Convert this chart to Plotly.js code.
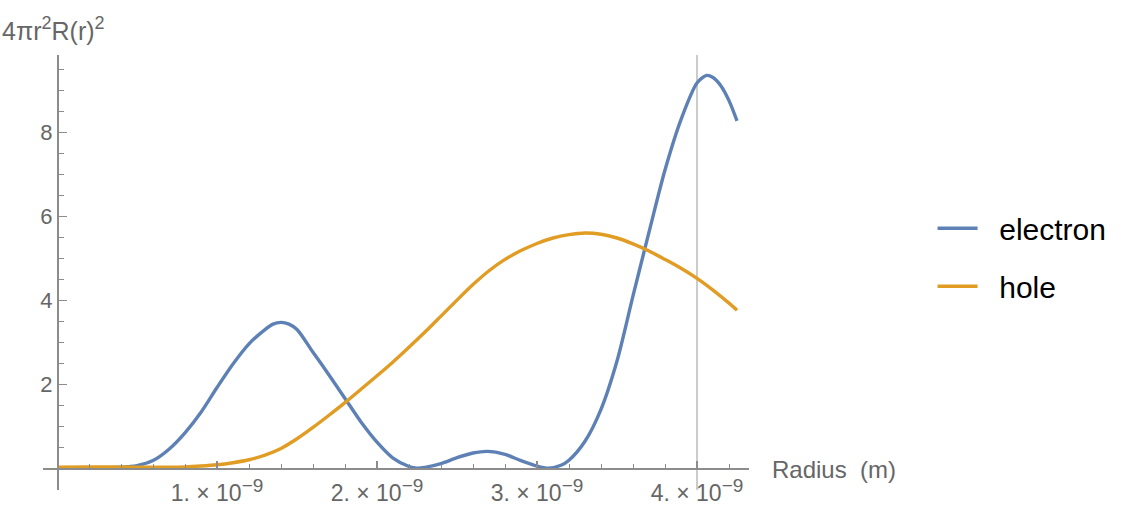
<!DOCTYPE html>
<html>
<head>
<meta charset="utf-8">
<script src="https://cdn.plot.ly/plotly-3.0.1.min.js"></script>
<style>
  html, body { margin: 0; padding: 0; background: #fff; }
  #fig { width: 1130px; height: 519px; }
</style>
</head>
<body>
<div id="fig"></div>
<script>
// radial probability density (radius in nm)
const electronR = [0, 0.1, 0.2, 0.3, 0.4, 0.5, 0.6, 0.7, 0.8, 0.9, 1.0, 1.1, 1.2, 1.3, 1.35, 1.4, 1.45, 1.5, 1.6, 1.7, 1.8, 1.9, 2.0, 2.1, 2.2, 2.25, 2.3, 2.4, 2.5, 2.6, 2.69, 2.8, 2.9, 3.0, 3.07, 3.15, 3.2, 3.3, 3.4, 3.5, 3.6, 3.7, 3.8, 3.9, 4.0, 4.06, 4.1, 4.15, 4.2, 4.25];
const electronP = [0, 0, 0, 0.01, 0.02, 0.06, 0.18, 0.45, 0.84, 1.33, 1.92, 2.48, 2.96, 3.3, 3.43, 3.47, 3.43, 3.3, 2.76, 2.22, 1.66, 1.1, 0.62, 0.24, 0.04, 0, 0.02, 0.11, 0.25, 0.36, 0.4, 0.33, 0.18, 0.05, 0, 0.07, 0.19, 0.64, 1.4, 2.55, 4.1, 5.62, 7.1, 8.3, 9.17, 9.35, 9.3, 9.1, 8.75, 8.27];

const holeR = [0, 0.2, 0.4, 0.6, 0.8, 0.9, 1.0, 1.1, 1.2, 1.3, 1.4, 1.5, 1.6, 1.7, 1.8, 1.9, 2.0, 2.1, 2.2, 2.3, 2.4, 2.5, 2.6, 2.7, 2.8, 2.9, 3.0, 3.1, 3.2, 3.3, 3.4, 3.5, 3.6, 3.7, 3.8, 3.9, 4.0, 4.1, 4.2, 4.25];
const holeP = [0.02, 0.03, 0.03, 0.02, 0.03, 0.05, 0.08, 0.13, 0.2, 0.31, 0.47, 0.7, 0.97, 1.26, 1.56, 1.88, 2.2, 2.53, 2.88, 3.24, 3.62, 4.0, 4.37, 4.7, 4.97, 5.18, 5.35, 5.48, 5.56, 5.6, 5.57, 5.48, 5.34, 5.17, 4.97, 4.76, 4.52, 4.24, 3.93, 3.76];

const xTickVals = [1e-9, 2e-9, 3e-9, 4e-9];
const xTickMant = ['1.', '2.', '3.', '4.'];
const yTickVals = [2, 4, 6, 8];
const gridLineX = 4e-9;

const nm = v => v * 1e-9;
const FONT = 'Liberation Sans, Arial, sans-serif';
const supSpan = (t, px) => `<sup><span style="font-size:${px}px">${t}</span></sup>`;

const xRange = [-0.0875e-9, 4.325e-9];
const yRange = [-0.52, 9.837];

const traces = [
  {
    x: electronR.map(nm), y: electronP,
    type: 'scatter', mode: 'lines', name: '\u00a0\u00a0electron',
    legendgroup: 'e',
    line: { color: '#5e81b5', width: 3.4, shape: 'spline', smoothing: 0.8 }
  },
  {
    x: holeR.map(nm), y: holeP,
    type: 'scatter', mode: 'lines', name: '\u00a0\u00a0hole',
    legendgroup: 'h',
    line: { color: '#e19c24', width: 3.4, shape: 'spline', smoothing: 0.8 }
  }
];

Plotly.newPlot('fig', traces, {
  width: 1130,
  height: 519,
  margin: { l: 43, r: 381, t: 55, b: 29 },
  paper_bgcolor: '#fff',
  plot_bgcolor: '#fff',
  font: { family: FONT, color: '#666' },
  xaxis: {
    range: xRange,
    anchor: 'free',
    position: (0 - yRange[0]) / (yRange[1] - yRange[0]),
    showgrid: false,
    zeroline: false,
    showline: true,
    linecolor: '#8c8c8c',
    linewidth: 1.5,
    tickmode: 'array',
    tickvals: xTickVals,
    ticktext: xTickMant.map(m => m + ' × 10' + supSpan('\u22129', 19)),
    ticks: 'inside',
    ticklen: 7,
    tickwidth: 1.2,
    tickcolor: '#8c8c8c',
    ticklabelstandoff: 4,
    tickfont: { size: 23, color: '#666' },
    minor: { dtick: 0.2e-9, tick0: 0, ticks: 'inside', ticklen: 4, tickwidth: 1, tickcolor: '#8c8c8c' }
  },
  yaxis: {
    range: yRange,
    anchor: 'free',
    position: (0 - xRange[0]) / (xRange[1] - xRange[0]),
    showgrid: false,
    zeroline: false,
    showline: true,
    linecolor: '#8c8c8c',
    linewidth: 1.5,
    tickmode: 'array',
    tickvals: yTickVals,
    ticks: 'inside',
    ticklen: 8,
    tickwidth: 1.2,
    tickcolor: '#8c8c8c',
    tickfont: { size: 22, color: '#666' },
    minor: { dtick: 0.5, tick0: 0, ticks: 'inside', ticklen: 5, tickwidth: 1, tickcolor: '#8c8c8c' }
  },
  shapes: [
    {
      type: 'line', layer: 'below',
      xref: 'x', yref: 'paper',
      x0: gridLineX, x1: gridLineX, y0: 0, y1: 1,
      line: { color: '#cccccc', width: 2 }
    }
  ],
  annotations: [
    {
      text: '4\u03c0r' + supSpan('2', 18) + 'R(r)' + supSpan('2', 18),
      xref: 'paper', yref: 'paper',
      x: -43 / 706, y: 1.06,
      xanchor: 'left', yanchor: 'middle',
      showarrow: false,
      font: { size: 25, color: '#666' }
    },
    {
      text: 'Radius\u00a0\u00a0(m)',
      xref: 'paper', yref: 'paper',
      x: 1.0297, y: 0.048,
      xanchor: 'left', yanchor: 'middle',
      showarrow: false,
      font: { size: 24, color: '#666' }
    }
  ],
  showlegend: true,
  legend: {
    x: 1.26, y: 0.535,
    xanchor: 'left', yanchor: 'middle',
    font: { size: 30, color: '#000' },
    tracegroupgap: 16,
    itemwidth: 40,
    bgcolor: 'rgba(0,0,0,0)'
  }
}, { displayModeBar: false, staticPlot: true });
</script>
</body>
</html>
